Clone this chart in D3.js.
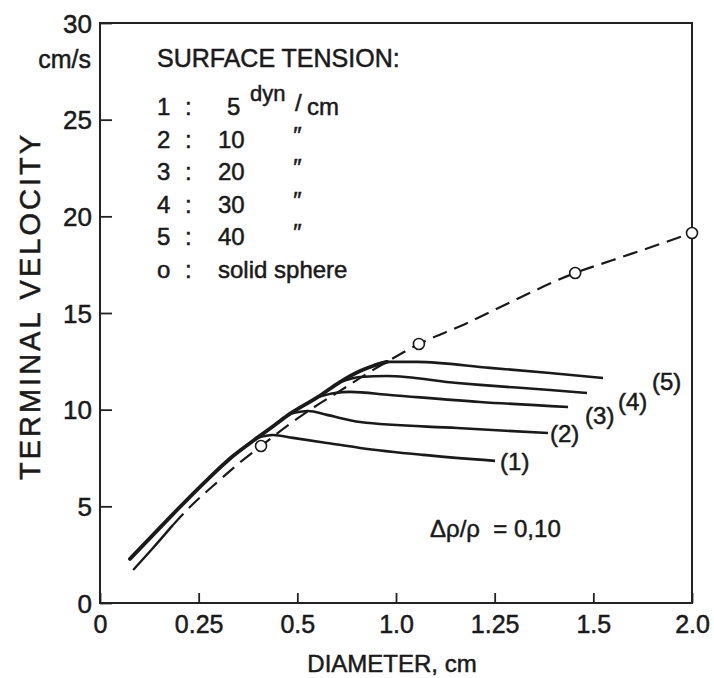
<!DOCTYPE html>
<html>
<head>
<meta charset="utf-8">
<script src="https://cdn.jsdelivr.net/npm/d3@7"></script>
<style>
  body { margin: 0; background: #fff; }
  svg text { font-family: "Liberation Sans", Arial, sans-serif; fill: #1a1a1a; stroke: #1a1a1a; stroke-width: 0.5px; }
</style>
</head>
<body>
<div id="chart"></div>
<script>
// x axis in the original is labelled unevenly, so the scale is piecewise
var xTicks = [0, 0.25, 0.5, 1.0, 1.25, 1.5, 2.0];
var xTickLabels = ["0", "0.25", "0.5", "1.0", "1.25", "1.5", "2.0"];
var yTicks = [0, 5, 10, 15, 20, 25, 30];

// common (bubble) envelope before the curves split
var envelopeD = [0.076, 0.132, 0.185, 0.271, 0.337, 0.398, 0.443, 0.481, 0.605, 0.716, 0.818, 0.883, 0.954];
var envelopeV = [2.28, 3.47, 4.60, 6.36, 7.60, 8.54, 9.21, 9.78, 10.66, 11.43, 12.00, 12.26, 12.47];

// branches for each surface tension
var tail1D = [0.398, 0.438, 0.489, 0.650, 0.818, 1.068, 1.251];
var tail1V = [8.54, 8.69, 8.54, 8.28, 8.02, 7.66, 7.35];
var tail2D = [0.481, 0.554, 0.650, 0.818, 1.155, 1.385];
var tail2V = [9.78, 9.93, 9.73, 9.36, 9.05, 8.79];
var tail3D = [0.605, 0.691, 0.767, 0.970, 1.213, 1.436];
var tail3V = [10.66, 10.86, 10.92, 10.76, 10.40, 10.14];
var tail4D = [0.716, 0.818, 0.954, 1.155, 1.213, 1.390, 1.484];
var tail4V = [11.43, 11.69, 11.74, 11.38, 11.28, 11.02, 10.86];
var tail5D = [0.883, 0.954, 1.053, 1.238, 1.390, 1.549];
var tail5V = [12.26, 12.47, 12.47, 12.16, 11.90, 11.64];
var tailNames = ["(1)", "(2)", "(3)", "(4)", "(5)"];

// solid sphere curve and its marked points
var sphereD = [0.084, 0.132, 0.185, 0.233, 0.286, 0.347, 0.408, 0.481, 0.579, 0.716, 0.843, 0.970, 1.058, 1.170, 1.296, 1.454, 1.600, 1.853, 2.0];
var sphereV = [1.71, 2.79, 4.04, 5.07, 6.05, 7.14, 8.12, 9.26, 10.09, 10.97, 11.80, 12.57, 13.40, 14.38, 15.62, 17.07, 17.74, 18.62, 19.14];
var markD = [0.408, 1.058, 1.454, 2.0];
var markV = [8.12, 13.40, 17.07, 19.14];

// legend
var legendKeys = ["1", "2", "3", "4", "5", "o"];
var legendValues = ["5", "10", "20", "30", "40", "solid sphere"];

var margin = { top: 23, right: 22, bottom: 75, left: 100 },
    width = 714 - margin.left - margin.right,
    height = 678 - margin.top - margin.bottom;

var svg = d3.select("#chart")
    .append("svg")
    .attr("width", 714)
    .attr("height", 678)
    .append("g")
    .attr("transform", "translate(" + margin.left + "," + margin.top + ")");

var x = d3.scaleLinear()
    .domain(xTicks)
    .range(xTicks.map(function (d, i) { return i * width / (xTicks.length - 1); }));
var y = d3.scaleLinear().domain([0, 30]).range([height, 0]);

function pts(ds, vs) { return ds.map(function (d, i) { return [d, vs[i]]; }); }

var line = d3.line()
    .x(function (d) { return x(d[0]); })
    .y(function (d) { return y(d[1]); })
    .curve(d3.curveMonotoneX);

// axes, ticks pointing inward
var xAxis = svg.append("g")
    .attr("transform", "translate(0," + height + ")")
    .call(d3.axisBottom(x).tickValues(xTicks)
        .tickFormat(function (d, i) { return xTickLabels[i]; })
        .tickSizeInner(-10).tickSizeOuter(0).tickPadding(12));
var yAxis = svg.append("g")
    .call(d3.axisLeft(y).tickValues(yTicks)
        .tickSizeInner(-12).tickSizeOuter(0).tickPadding(8));

[xAxis, yAxis].forEach(function (a) {
    a.selectAll("path").remove();
    a.selectAll("line").attr("stroke", "#222").attr("stroke-width", 1.8);
    a.selectAll("text").attr("fill", "#1a1a1a");
});
xAxis.selectAll("text").style("font-size", "25px");
yAxis.selectAll("text").style("font-size", "26px").attr("dy", "0.35em");

// frame
svg.append("rect")
    .attr("width", width).attr("height", height)
    .attr("fill", "none").attr("stroke", "#222").attr("stroke-width", 2);

svg.append("text")
    .attr("x", -9).attr("y", 45)
    .attr("text-anchor", "end")
    .style("font-size", "25px")
    .text("cm/s");

// axis titles
svg.append("text")
    .attr("x", width / 2 - 4).attr("y", height + 69)
    .attr("text-anchor", "middle")
    .style("font-size", "24px")
    .text("DIAMETER, cm");

svg.append("text")
    .attr("transform", "translate(" + (40 - margin.left) + "," + (132 - margin.top) + ") rotate(-90)")
    .attr("text-anchor", "end")
    .style("font-size", "29px")
    .style("letter-spacing", "3px")
    .text("TERMINAL VELOCITY");

// solid sphere: solid at the start, dashed afterwards
var sphere = pts(sphereD, sphereV);
var split = 2;
svg.append("path")
    .datum(sphere.slice(0, split + 1))
    .attr("d", line)
    .attr("fill", "none").attr("stroke", "#1a1a1a").attr("stroke-width", 2.4);
svg.append("path")
    .datum(sphere.slice(split))
    .attr("d", line)
    .attr("fill", "none").attr("stroke", "#1a1a1a").attr("stroke-width", 2.2)
    .attr("stroke-dasharray", "15,8");

// bubble curves
var tails = [pts(tail1D, tail1V), pts(tail2D, tail2V), pts(tail3D, tail3V), pts(tail4D, tail4V), pts(tail5D, tail5V)];
svg.selectAll(".tail")
    .data(tails)
    .enter().append("path")
    .attr("class", "tail")
    .attr("d", line)
    .attr("fill", "none").attr("stroke", "#1a1a1a").attr("stroke-width", 2.6);

svg.append("path")
    .datum(pts(envelopeD, envelopeV))
    .attr("d", line)
    .attr("fill", "none").attr("stroke", "#1a1a1a").attr("stroke-width", 3.8)
    .attr("stroke-linecap", "round");

// curve labels near the end of each tail
var labelOffsets = [[5, 9], [2, 9], [17, 17], [31, 17], [49, 12]];
svg.selectAll(".tail-label")
    .data(tails)
    .enter().append("text")
    .attr("class", "tail-label")
    .attr("x", function (d, i) { return x(d[d.length - 1][0]) + labelOffsets[i][0]; })
    .attr("y", function (d, i) { return y(d[d.length - 1][1]) + labelOffsets[i][1]; })
    .style("font-size", "24px")
    .text(function (d, i) { return tailNames[i]; });

// marker circles
svg.selectAll(".mark")
    .data(markD)
    .enter().append("circle")
    .attr("class", "mark")
    .attr("cx", function (d) { return x(d); })
    .attr("cy", function (d, i) { return y(markV[i]); })
    .attr("r", 5.5)
    .attr("fill", "#fff").attr("stroke", "#1a1a1a").attr("stroke-width", 1.6);

// legend block
var lg = svg.append("g").attr("transform", "translate(" + (157 - margin.left) + "," + (67 - margin.top) + ")");
lg.append("text").attr("x", 0).attr("y", 0).style("font-size", "25px").text("SURFACE TENSION:");

var rows = lg.selectAll(".row")
    .data(legendKeys)
    .enter().append("g")
    .attr("class", "row")
    .attr("transform", function (d, i) { return "translate(0," + (48 + i * 32.6) + ")"; });

rows.append("text").attr("x", 0).style("font-size", "24px").text(function (d) { return d; });
rows.append("text").attr("x", 28).style("font-size", "24px").text(":");
rows.append("text")
    .attr("x", function (d, i) { return i === 0 ? 70 : 61; })
    .style("font-size", "24px")
    .text(function (d, i) { return legendValues[i]; });
rows.filter(function (d, i) { return i >= 1 && i <= 4; })
    .append("text")
    .attr("x", 135).attr("y", -4)
    .style("font-size", "24px")
    .style("font-style", "italic")
    .text("\u2033");

var unit = lg.append("g").attr("transform", "translate(0,48)");
unit.append("text").attr("x", 93).attr("y", -14).style("font-size", "22px").text("dyn");
unit.append("text").attr("x", 138).attr("y", -4).style("font-size", "24px").text("/");
unit.append("text").attr("x", 150).attr("y", 0).style("font-size", "24px").text("cm");

// density ratio note
svg.append("text")
    .attr("x", 430 - margin.left).attr("y", 537 - margin.top)
    .style("font-size", "24px")
    .style("white-space", "pre")
    .text("\u0394\u03C1/\u03C1  = 0,10");
</script>
</body>
</html>
